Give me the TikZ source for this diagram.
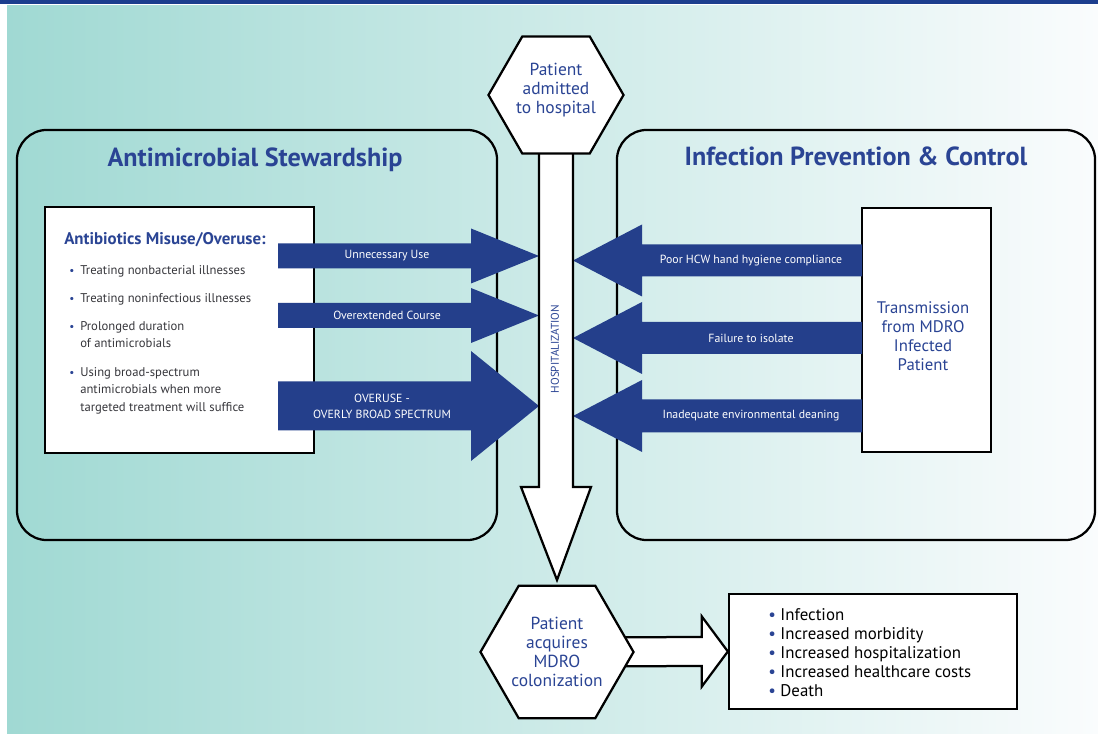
\documentclass[tikz,border=0pt]{standalone}
\usepackage{fontspec}
\setmainfont{PT Sans}
\usetikzlibrary{shapes.geometric,calc}
\definecolor{arrowblue}{RGB}{36,63,139}
\definecolor{txtblue}{RGB}{42,68,148}
\definecolor{barblue}{RGB}{28,62,142}
\definecolor{tealbg}{RGB}{160,217,211}
\definecolor{midbg}{RGB}{212,235,233}
\definecolor{rightbg}{RGB}{250,252,253}
\definecolor{listgray}{RGB}{55,55,60}

\begin{document}
\begin{tikzpicture}[x=0.025cm,y=-0.025cm,
	edgeline/.style={draw=black,line width=1.6pt},
	roundbox/.style={edgeline,rounded corners=0.75cm,minimum width=12cm,minimum height=10.25cm,inner sep=0pt},
	whitebox/.style={edgeline,fill=white,inner sep=0pt},
	hexa/.style={edgeline,fill=white,regular polygon,regular polygon sides=6,inner sep=0pt},
	bigtxt/.style={text=txtblue,font=\fontsize{12.4}{13.5}\selectfont,align=center,inner sep=0pt},
	headtxt/.style={text=txtblue,font=\fontsize{18.6}{21}\selectfont\bfseries,anchor=base,inner sep=0pt},
	arrowlbl/.style={text=white,font=\fontsize{8.4}{11.4}\selectfont,align=center,inner sep=0pt},
	listtxt/.style={text=listgray,font=\fontsize{9}{10}\selectfont,anchor=base west,inner sep=0pt},
	listdot/.style={text=txtblue,font=\fontsize{8}{10}\selectfont,anchor=base,inner sep=0pt},
	bluearrow/.style={fill=arrowblue},
	whitearrow/.style={edgeline,fill=white,line join=miter}]
	\useasboundingbox (0,0) rectangle (1098,734);
	\fill[white] (0,0) rectangle (1098,734);
	\shade[left color=tealbg,middle color=midbg,right color=rightbg] (7,6) rectangle (1098,734);
	\fill[barblue] (0,0) rectangle (1098,4.5);

	\node[roundbox] (stew) at (257,335) {};
	\node[roundbox,minimum width=11.95cm] (ipc) at (856,335) {};
	\node[headtxt] (stewtitle) at (255,167) {Antimicrobial Stewardship};
	\node[headtxt] (ipctitle) at (856,166) {Infection Prevention \& Control};

	\node[whitebox,minimum width=6.725cm,minimum height=6.15cm] (misuse) at (179.5,330) {};
	\node[anchor=base west,inner sep=0pt,text=txtblue,font=\fontsize{12}{14}\selectfont\bfseries] (misusehead) at (64,245) {Antibiotics Misuse/Overuse:};
	\foreach \y/\lab in {275/Treating nonbacterial illnesses,303/Treating noninfectious illnesses,331/Prolonged duration,348/of antimicrobials,377/Using broad-spectrum,394/antimicrobials when more,411/targeted treatment will suffice}
		\node[listtxt] (line\y) at (80,\y) {\lab};
	\foreach \y in {275,303,331,377}
		\node[listdot] (dot\y) at (72,\y) {\textbullet};

	\node[whitebox,minimum width=3.225cm,minimum height=6.1cm] (trans) at (926.5,330) {};
	\node[bigtxt,font=\fontsize{11.9}{13.5}\selectfont] (transtxt) at (923,336) {Transmission\\from MDRO\\Infected\\Patient};

	\foreach \y/\s/\h/\lx/\nm/\lab in {256/12.5/27.5/387/unnec/Unnecessary Use,315.5/12.5/27.5/387/overext/Overextended Course,406/24.5/55/382/overuse/{OVERUSE -\\OVERLY BROAD SPECTRUM}}{
		\fill[bluearrow] (278,{\y-\s}) -- (471,{\y-\s}) -- (471,{\y-\h}) -- (539,\y) -- (471,{\y+\h}) -- (471,{\y+\s}) -- (278,{\y+\s}) -- cycle;
		\node[arrowlbl] (\nm) at (\lx,\y) {\lab};
	}
	\foreach \y/\s/\h/\nm/\lab in {260.5/16/36/hygiene/Poor HCW hand hygiene compliance,338/16/36/isolate/Failure to isolate,416/16.5/36/cleaning/Inadequate environmental deaning}{
		\fill[bluearrow] (862,{\y-\s}) -- (642,{\y-\s}) -- (642,{\y-\h}) -- (573,\y) -- (642,{\y+\h}) -- (642,{\y+\s}) -- (862,{\y+\s}) -- cycle;
		\node[arrowlbl] (\nm) at (751,\y) {\lab};
	}

	\coordinate (admitc) at (556,95);
	\coordinate (colonc) at (557,652);
	\draw[whitearrow] ($(admitc)+(-17,0)$) -- ($(admitc)+(-17,392)$) -- ($(admitc)+(-35,392)$) -- ($(colonc)+(0,-72)$) -- ($(admitc)+(35,392)$) -- ($(admitc)+(17,392)$) -- ($(admitc)+(17,0)$) -- cycle;
	\node[text=txtblue,font=\fontsize{8}{9}\selectfont,rotate=90,inner sep=0pt] (hosp) at (555,349) {HOSPITALIZATION};
	\node[hexa,minimum size=3.375cm] (admit) at (admitc) {};
	\node[bigtxt] (admittxt) at (556,90) {Patient\\admitted\\to hospital};

	\node[whitebox,minimum width=7.2cm,minimum height=2.875cm] (results) at (873,651.5) {};
	\node[anchor=west,align=left,inner sep=0pt,font=\fontsize{12}{13.4}\selectfont] (outcomes) at (768,652.5) {\textcolor{txtblue}{\textbullet} Infection\\\textcolor{txtblue}{\textbullet} Increased morbidity\\\textcolor{txtblue}{\textbullet} Increased hospitalization\\\textcolor{txtblue}{\textbullet} Increased healthcare costs\\\textcolor{txtblue}{\textbullet} Death};
	\draw[whitearrow] ($(colonc)+(0,-14.5)$) -- ($(results.west)+(-26,-14.5)$) -- ($(results.west)+(-26,-35)$) -- (results.west) -- ($(results.west)+(-26,35)$) -- ($(results.west)+(-26,14.5)$) -- ($(colonc)+(0,14.5)$) -- cycle;
	\node[hexa,minimum size=3.825cm] (colon) at (colonc) {};
	\node[bigtxt] (colontxt) at (557,652) {Patient\\acquires\\MDRO\\colonization};
\end{tikzpicture}
\end{document}
